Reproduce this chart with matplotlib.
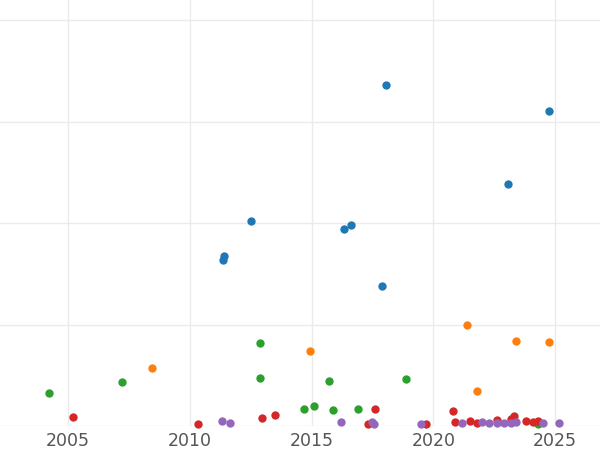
import matplotlib
matplotlib.use("Agg")
import matplotlib.pyplot as plt

blue_x = [2018.05, 2024.75, 2023.05, 2012.5, 2016.6, 2016.35, 2011.4, 2011.35, 2017.9]
blue_y = [3.36, 3.11, 2.39, 2.02, 1.98, 1.94, 1.68, 1.64, 1.38]
orange_x = [2021.4, 2023.4, 2024.75, 2014.95, 2008.45, 2021.8]
orange_y = [1.0, 0.84, 0.83, 0.74, 0.57, 0.35]
green_x = [2012.9, 2012.9, 2004.2, 2007.2, 2015.7, 2018.9, 2015.1, 2014.7, 2015.9, 2016.9, 2024.3]
green_y = [0.82, 0.47, 0.33, 0.43, 0.44, 0.46, 0.20, 0.17, 0.16, 0.17, 0.02]
red_x = [2005.2, 2010.35, 2012.95, 2013.5, 2017.6, 2017.3, 2019.7, 2020.8, 2020.9, 2021.5,
         2021.8, 2022.6, 2023.3, 2023.2, 2023.8, 2024.1, 2024.3]
red_y = [0.09, 0.02, 0.08, 0.11, 0.17, 0.02, 0.02, 0.15, 0.04, 0.05,
         0.03, 0.06, 0.10, 0.07, 0.05, 0.04, 0.05]
purple_x = [2011.3, 2011.65, 2016.2, 2017.5, 2017.55, 2019.5, 2021.2, 2022.0, 2022.3, 2022.6,
            2022.9, 2023.2, 2023.4, 2024.5, 2025.15]
purple_y = [0.05, 0.03, 0.04, 0.04, 0.02, 0.02, 0.03, 0.04, 0.03, 0.03,
            0.03, 0.03, 0.04, 0.03, 0.03]
xticks = [2005, 2010, 2015, 2020, 2025]

fig = plt.figure(figsize=(6, 4.5), dpi=100)
ax = fig.add_axes([0, 1 - 426 / 450, 1, 426 / 450])
series = [(blue_x, blue_y, "#1f77b4"), (orange_x, orange_y, "#ff7f0e"),
          (green_x, green_y, "#2ca02c"), (red_x, red_y, "#d62728"),
          (purple_x, purple_y, "#9467bd")]
for xs, ys, c in series:
    ax.scatter(xs, ys, s=36, color=c, zorder=3, clip_on=False, linewidths=0)
ax.set_xlim(2002.2, 2026.85)
ax.set_ylim(0, 4.2)
ax.set_xticks(xticks)
ax.set_xticklabels([str(t) for t in xticks], fontsize=12.5, color="#555555")
ax.set_yticks([0, 1, 2, 3, 4])
ax.set_yticklabels([])
ax.grid(True, color="#ebebeb", linewidth=1)
ax.set_axisbelow(True)
ax.tick_params(length=0, pad=4)
for s in ax.spines.values():
    s.set_visible(False)
fig.savefig("out.png", dpi=100)
